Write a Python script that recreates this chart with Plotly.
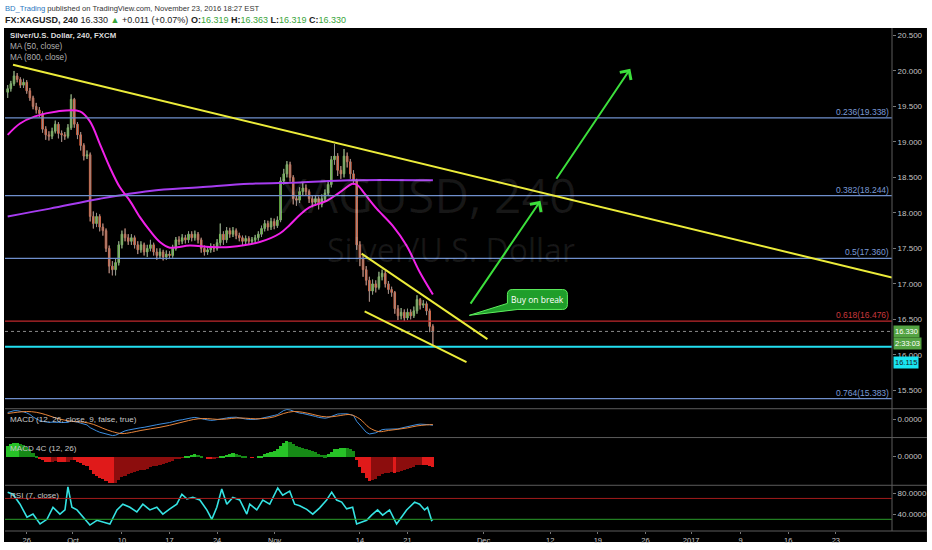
import plotly.graph_objects as go

# ---------------- data ----------------
# 8-hour bars; x is trading-day index (0 = Mon 26 Sep 2016, weekends removed)
bar_start_day = -2.0
bar_step = 1 / 3

opens = [19.70,19.75,19.82,19.93,19.88,19.80,19.84,19.72,19.62,19.50,
 19.45,19.40,19.18,19.10,19.08,19.15,19.25,19.12,19.10,19.08,
 19.20,19.60,19.25,19.10,18.95,18.80,18.82,17.95,17.85,17.95,
 17.80,17.75,17.50,17.25,17.20,17.30,17.55,17.70,17.65,17.60,
 17.65,17.55,17.48,17.55,17.45,17.50,17.55,17.45,17.40,17.45,
 17.38,17.42,17.40,17.50,17.62,17.60,17.65,17.62,17.70,17.65,
 17.70,17.62,17.50,17.45,17.48,17.52,17.50,17.58,17.70,17.62,
 17.75,17.70,17.75,17.68,17.65,17.60,17.64,17.60,17.62,17.65,
 17.70,17.78,17.85,17.80,17.88,17.82,17.90,18.45,18.55,18.68,
 18.50,18.20,18.18,18.30,18.35,18.30,18.20,18.15,18.20,18.12,
 18.20,18.28,18.40,18.75,18.80,18.60,18.55,18.80,18.72,18.55,
 18.45,17.55,17.35,17.20,17.05,16.90,17.00,16.95,17.10,17.15,
 17.00,16.92,16.88,16.65,16.55,16.60,16.52,16.60,16.55,16.62,
 16.78,16.70,16.72,16.62,16.40]
highs = [19.80,19.86,20.00,19.97,19.91,19.89,19.87,19.76,19.65,19.55,
 19.49,19.43,19.22,19.15,19.20,19.30,19.28,19.16,19.14,19.25,
 19.67,19.62,19.28,19.14,18.98,18.88,18.85,18.02,18.00,17.98,
 17.85,17.78,17.54,17.32,17.36,17.60,17.75,17.78,17.70,17.70,
 17.68,17.60,17.60,17.58,17.55,17.62,17.58,17.50,17.50,17.48,
 17.47,17.46,17.55,17.66,17.67,17.70,17.69,17.74,17.74,17.75,
 17.73,17.65,17.54,17.53,17.57,17.56,17.63,17.85,17.74,17.80,
 17.79,17.80,17.78,17.72,17.68,17.68,17.67,17.66,17.69,17.74,
 17.82,17.90,17.89,17.93,17.92,17.95,18.50,18.62,18.73,18.72,
 18.53,18.25,18.36,18.42,18.40,18.33,18.24,18.25,18.23,18.26,
 18.33,18.46,18.80,18.97,18.84,18.66,18.90,18.85,18.76,18.60,
 18.48,17.60,17.40,17.25,17.10,17.06,17.05,17.17,17.20,17.18,
 17.04,16.96,16.90,16.70,16.66,16.64,16.65,16.64,16.68,16.84,
 16.80,16.77,16.75,16.65,16.43]
lows = [19.62,19.71,19.79,19.84,19.76,19.76,19.68,19.58,19.46,19.40,
 19.35,19.13,19.03,19.02,19.04,19.12,19.05,19.00,19.03,19.05,
 19.17,19.20,19.04,18.88,18.74,18.76,17.88,17.78,17.80,17.74,
 17.68,17.45,17.15,17.12,17.12,17.26,17.50,17.60,17.55,17.55,
 17.50,17.42,17.44,17.40,17.38,17.46,17.40,17.34,17.36,17.33,
 17.34,17.35,17.37,17.47,17.55,17.56,17.57,17.58,17.60,17.61,
 17.57,17.44,17.40,17.41,17.44,17.45,17.47,17.54,17.55,17.58,
 17.65,17.66,17.63,17.60,17.55,17.56,17.55,17.56,17.58,17.61,
 17.66,17.74,17.75,17.76,17.77,17.79,17.87,18.40,18.50,18.44,
 18.12,18.10,18.14,18.25,18.24,18.14,18.08,18.10,18.05,18.08,
 18.16,18.24,18.36,18.68,18.52,18.48,18.50,18.64,18.48,18.40,
 17.48,17.25,17.10,16.98,16.75,16.85,16.88,16.92,17.05,16.95,
 16.86,16.82,16.58,16.49,16.50,16.48,16.49,16.50,16.52,16.58,
 16.64,16.66,16.56,16.32,16.12]
closes = [19.75,19.82,19.93,19.88,19.80,19.84,19.72,19.62,19.50,19.45,
 19.40,19.18,19.10,19.08,19.15,19.25,19.12,19.10,19.08,19.20,
 19.60,19.25,19.10,18.95,18.80,18.82,17.95,17.85,17.95,17.80,
 17.75,17.50,17.25,17.20,17.30,17.55,17.70,17.65,17.60,17.65,
 17.55,17.48,17.55,17.45,17.50,17.55,17.45,17.40,17.45,17.38,
 17.42,17.40,17.50,17.62,17.60,17.65,17.62,17.70,17.65,17.70,
 17.62,17.50,17.45,17.48,17.52,17.50,17.58,17.70,17.62,17.75,
 17.70,17.75,17.68,17.65,17.60,17.64,17.60,17.62,17.65,17.70,
 17.78,17.85,17.80,17.88,17.82,17.90,18.45,18.55,18.68,18.50,
 18.20,18.18,18.30,18.35,18.30,18.20,18.15,18.20,18.12,18.20,
 18.28,18.40,18.75,18.80,18.60,18.55,18.80,18.72,18.55,18.45,
 17.55,17.35,17.20,17.05,16.90,17.00,16.95,17.10,17.15,17.00,
 16.92,16.88,16.65,16.55,16.60,16.52,16.60,16.55,16.62,16.78,
 16.70,16.72,16.62,16.40,16.33]

ma50_day = [-2.0,-0.7,0.87,3.18,5.59,6.64,7.69,8.74,9.79,10.84,11.89,12.94,13.99,15.04,
            17.13,19.23,21.33,24.48,26.58,27.63,28.68,29.73,31.51,32.88,34.24,34.76,
            35.5,36.76,38.44,39.9,41.27,42.67]
ma50_val = [19.10,19.26,19.36,19.43,19.43,19.29,18.97,18.64,18.36,18.17,17.94,17.75,17.59,17.51,
            17.54,17.52,17.52,17.59,17.71,17.83,17.97,18.08,18.17,18.29,18.41,18.39,
            18.27,18.06,17.82,17.54,17.17,16.85]
ma800_day = [-2.0, 2.44, 7.69, 12.94, 18.19, 23.43, 28.68, 33.93, 42.67]
ma800_val = [17.95, 18.06, 18.20, 18.31, 18.36, 18.41, 18.43, 18.46, 18.46]

macd_vals = [0.35,0.40,0.44,0.44,0.42,0.38,0.33,0.25,0.12,0.02,
 -0.05,-0.10,-0.14,-0.15,-0.14,-0.13,-0.15,-0.16,-0.17,-0.15,
 -0.08,-0.10,-0.14,-0.19,-0.25,-0.28,-0.42,-0.52,-0.58,-0.65,
 -0.70,-0.75,-0.80,-0.82,-0.80,-0.72,-0.64,-0.58,-0.54,-0.50,
 -0.47,-0.45,-0.42,-0.40,-0.36,-0.32,-0.29,-0.27,-0.24,-0.22,
 -0.19,-0.16,-0.12,-0.07,-0.04,-0.02,0.02,0.05,0.08,0.10,
 0.08,0.04,0.00,-0.03,-0.05,-0.04,-0.02,0.02,0.03,0.07,
 0.10,0.12,0.11,0.08,0.04,0.02,0.00,-0.01,0.00,0.02,
 0.05,0.10,0.13,0.17,0.20,0.24,0.35,0.45,0.50,0.48,
 0.42,0.36,0.32,0.30,0.27,0.22,0.18,0.15,0.10,0.07,
 0.06,0.09,0.16,0.24,0.27,0.28,0.29,0.28,0.24,0.20,
 -0.10,-0.30,-0.50,-0.65,-0.74,-0.72,-0.68,-0.60,-0.52,-0.50,
 -0.49,-0.48,-0.50,-0.48,-0.44,-0.40,-0.36,-0.33,-0.30,-0.26,
 -0.24,-0.24,-0.25,-0.27,-0.30]
signal_day = list(range(-2, 43)) + [42.67]
signal_val = [0.30,0.36,0.40,0.36,0.24,0.08,-0.04,-0.11,-0.14,-0.25,-0.45,-0.62,-0.72,-0.66,
              -0.56,-0.48,-0.40,-0.30,-0.18,-0.06,0.03,0.04,0.00,0.02,0.07,0.06,0.03,0.05,
              0.13,0.30,0.40,0.36,0.26,0.15,0.13,0.20,0.24,0.02,-0.42,-0.62,-0.56,-0.50,
              -0.43,-0.33,-0.28,-0.26]

rsi_day = [-2.0,-1.44,-0.7,0.03,0.66,1.4,2.13,2.76,3.49,4.02,4.33,4.75,5.28,5.91,6.64,7.38,
           8.01,8.74,9.48,10.1,10.84,11.57,12.2,12.94,13.67,14.3,15.04,15.77,16.3,16.82,
           17.45,18.19,18.92,19.45,19.97,20.49,21.02,21.65,22.38,23.12,23.43,24.17,24.8,
           25.53,26.37,26.89,27.63,28.15,28.68,29.42,30.05,30.78,31.51,32.04,32.56,33.09,
           33.61,34.24,34.66,35.18,35.71,36.23,36.86,37.39,38.12,38.86,39.38,39.91,40.75,
           41.27,41.8,42.11,42.53,42.67]
rsi_val = [82,78,59,34,40,21,30,53,40,48,92,53,48,34,19,28,25,21,48,59,53,44,59,48,53,40,
           50,59,78,69,72,67,48,30,53,88,59,72,67,40,59,48,67,59,90,76,84,59,56,49,40,52,
           67,82,67,63,50,53,21,25,28,38,48,38,48,21,34,48,63,59,48,53,28,30]

fib_ratios = ["0.236", "0.382", "0.5", "0.618", "0.764"]
fib_levels = [19.338, 18.244, 17.360, 16.476, 15.383]
support_level = 16.115
last_price = 16.330

price_ticks = [15.5, 16.0, 16.5, 17.0, 17.5, 18.0, 18.5, 19.0, 19.5, 20.0, 20.5]
date_tick_days = [0, 4.86, 10, 15, 20, 26.05, 35, 40, 48, 55, 60, 65, 69.8, 75, 80, 85]
date_tick_text = ["26", "Oct", "10", "17", "24", "Nov", "14", "21", "Dec", "12", "19", "26",
                  "2017", "9", "16", "23"]

# drawings (trading-day, price)
trend_long = [(-1.44, 20.087), (90.9, 17.09)]
channel_top = [(35.18, 17.426), (48.4, 16.221)]
channel_bottom = [(35.5, 16.613), (46.2, 15.899)]
arrow_1 = [(46.52, 16.70), (53.97, 18.17)]
arrow_2 = [(55.54, 18.46), (63.41, 20.03)]
callout_box = (50.5, 56.8, 16.64, 16.92)   # x0, x1, y0, y1
callout_tip = (46.5, 16.557)

X_RANGE = [-2.28, 90.9]
PRICE_RANGE = [15.241, 20.605]

# ---------------- layout helpers ----------------
L_PX, R_PX, T_PX, B_PX = 5, 893, 28, 534
def px_x(px):
    return (px - L_PX) / (R_PX - L_PX)
def px_y(py):
    return (B_PX - py) / (B_PX - T_PX)

bar_x = [bar_start_day + i * bar_step for i in range(len(closes))]

fig = go.Figure()

wx, wy = [], []
for x, h, l in zip(bar_x, highs, lows):
    wx += [x, x, None]
    wy += [l, h, None]
fig.add_trace(go.Scatter(x=wx, y=wy, mode="lines", line=dict(color="#8e8e8e", width=1),
                         hoverinfo="skip", yaxis="y"))
fig.add_trace(go.Candlestick(
    x=bar_x, open=opens, high=highs, low=lows, close=closes, yaxis="y",
    increasing=dict(fillcolor="#74c84e", line=dict(color="#74c84e", width=1)),
    decreasing=dict(fillcolor="#e0633f", line=dict(color="#e0633f", width=1)),
    whiskerwidth=0))

fig.add_trace(go.Scatter(x=ma800_day, y=ma800_val, mode="lines", line=dict(color="#a63cf0", width=2, shape="spline"), yaxis="y"))
fig.add_trace(go.Scatter(x=ma50_day, y=ma50_val, mode="lines", line=dict(color="#f020e8", width=2, shape="spline"), yaxis="y"))

fig.add_trace(go.Scatter(x=bar_x, y=macd_vals, mode="lines", line=dict(color="#3d8ee0", width=1), yaxis="y2"))
fig.add_trace(go.Scatter(x=signal_day, y=signal_val, mode="lines", line=dict(color="#e8853a", width=1, shape="spline"), yaxis="y2"))

cols = []
for i, v in enumerate(macd_vals):
    prev = macd_vals[i - 1] if i else v
    if v >= 0:
        cols.append("#27c227" if v >= prev else "#168a16")
    else:
        cols.append("#e01a1a" if v <= prev else "#8c0d0d")
fig.add_trace(go.Bar(x=bar_x, y=macd_vals, marker=dict(color=cols, line=dict(width=0)),
                     width=bar_step, yaxis="y3"))

fig.add_trace(go.Scatter(x=rsi_day, y=rsi_val, mode="lines", line=dict(color="#35e3e3", width=1.6), yaxis="y4"))

shapes = []
shapes.append(dict(type="rect", xref="paper", yref="paper", x0=px_x(4), x1=px_x(928),
                   y0=px_y(545), y1=1, fillcolor="#000000", line=dict(width=0), layer="below"))
for ratio, lvl in zip(fib_ratios, fib_levels):
    c = "#c0282c" if ratio == "0.618" else "#6f8fcc"
    shapes.append(dict(type="line", xref="x", yref="y", x0=X_RANGE[0], x1=X_RANGE[1], y0=lvl, y1=lvl,
                       line=dict(color=c, width=1.2)))
shapes.append(dict(type="line", xref="x", yref="y", x0=X_RANGE[0], x1=X_RANGE[1], y0=last_price, y1=last_price,
                   line=dict(color="#8a8a8a", width=1, dash="dot")))
shapes.append(dict(type="line", xref="x", yref="y", x0=X_RANGE[0], x1=X_RANGE[1], y0=support_level, y1=support_level,
                   line=dict(color="#22dff0", width=2)))
shapes.append(dict(type="line", xref="x", yref="y4", x0=X_RANGE[0], x1=X_RANGE[1], y0=70, y1=70,
                   line=dict(color="#a31c1c", width=1)))
shapes.append(dict(type="line", xref="x", yref="y4", x0=X_RANGE[0], x1=X_RANGE[1], y0=30, y1=30,
                   line=dict(color="#2a9d2a", width=1)))
for seg in (trend_long, channel_top, channel_bottom):
    shapes.append(dict(type="line", xref="x", yref="y", x0=seg[0][0], y0=seg[0][1], x1=seg[1][0], y1=seg[1][1],
                       line=dict(color="#ecec3a", width=2)))
bx0, bx1, by0, by1 = callout_box
rx, ry = 0.5, 0.07
tx, ty = callout_tip
path = (f"M{bx0+rx},{by1} L{bx1-rx},{by1} Q{bx1},{by1} {bx1},{by1-ry} L{bx1},{by0+ry} "
        f"Q{bx1},{by0} {bx1-rx},{by0} L{bx0+1.1},{by0} L{tx},{ty} L{bx0},{by0+0.085} "
        f"L{bx0},{by1-ry} Q{bx0},{by1} {bx0+rx},{by1} Z")
shapes.append(dict(type="path", xref="x", yref="y", path=path, fillcolor="#1f9e2a",
                   line=dict(color="#5ef05e", width=1)))
for py in (411, 440, 488, 534):
    shapes.append(dict(type="line", xref="paper", yref="paper", x0=0, x1=px_x(928), y0=px_y(py), y1=px_y(py),
                       line=dict(color="#5c5c5c", width=1)))
shapes.append(dict(type="line", xref="paper", yref="paper", x0=1, x1=1, y0=0, y1=1,
                   line=dict(color="#5c5c5c", width=1)))

ann = []
SANS = "Liberation Sans"
ann.append(dict(xref="paper", yref="paper", x=px_x(3), y=px_y(8), xanchor="left", yanchor="middle", showarrow=False,
                text="<span style='color:#2a78c2'>BD_Trading</span> published on TradingView.com, November 23, 2016 18:27 EST",
                font=dict(family=SANS, size=7.6, color="#333333")))
g = "#3aa53a"
ann.append(dict(xref="paper", yref="paper", x=px_x(3), y=px_y(20), xanchor="left", yanchor="middle", showarrow=False,
                text=(f"<b>FX:XAGUSD, 240</b> 16.330 <span style='color:{g}'>▲</span> +0.011 (+0.07%) "
                      f"<b>O:</b><span style='color:{g}'>16.319</span> <b>H:</b><span style='color:{g}'>16.363</span> "
                      f"<b>L:</b><span style='color:{g}'>16.319</span> <b>C:</b><span style='color:{g}'>16.330</span>"),
                font=dict(family=SANS, size=9, color="#222222")))
ann.append(dict(xref="paper", yref="paper", x=px_x(8), y=px_y(36), xanchor="left", yanchor="middle", showarrow=False,
                text="<b>Silver/U.S. Dollar, 240, FXCM</b>", font=dict(family=SANS, size=7.8, color="#dddddd")))
ann.append(dict(xref="paper", yref="paper", x=px_x(8), y=px_y(47), xanchor="left", yanchor="middle", showarrow=False,
                text="MA (50, close)", font=dict(family=SANS, size=8.2, color="#b0b0b0")))
ann.append(dict(xref="paper", yref="paper", x=px_x(8), y=px_y(58), xanchor="left", yanchor="middle", showarrow=False,
                text="MA (800, close)", font=dict(family=SANS, size=8.2, color="#b0b0b0")))
for txt, py in (("MACD (12, 26, close, 9, false, true)", 422), ("MACD 4C (12, 26)", 451), ("RSI (7, close)", 498)):
    ann.append(dict(xref="paper", yref="paper", x=px_x(8), y=px_y(py), xanchor="left", yanchor="middle", showarrow=False,
                    text=txt, font=dict(family=SANS, size=8.1, color="#c8c8c8")))
ann.append(dict(xref="paper", yref="paper", x=px_x(428), y=px_y(195), xanchor="center", yanchor="middle", showarrow=False,
                text="XAGUSD, 240", font=dict(family="Open Sans", size=48, color="rgba(255,255,255,0.09)")))
ann.append(dict(xref="paper", yref="paper", x=px_x(452), y=px_y(251), xanchor="center", yanchor="middle", showarrow=False,
                text="Silver/U.S. Dollar", font=dict(family="Open Sans", size=32, color="rgba(255,255,255,0.09)")))
for ratio, lvl in zip(fib_ratios, fib_levels):
    c = "#c8383c" if ratio == "0.618" else "#7b9ad6"
    ann.append(dict(xref="paper", yref="y", x=px_x(891), y=lvl, xanchor="right", yanchor="bottom", showarrow=False,
                    text=f"{ratio}({lvl:.3f})", font=dict(family=SANS, size=8.5, color=c), borderpad=0))
for txt, py, bg, fc in (("16.330", 333, "#54a343", "#ffffff"), ("2:33:03", 345, "#54a343", "#ffffff"),
                        ("16.115", 364, "#19e4f2", "#1a1a1a")):
    ann.append(dict(xref="paper", yref="paper", x=px_x(894), y=px_y(py), xanchor="left", yanchor="middle",
                    showarrow=False, text=txt, bgcolor=bg, borderpad=1,
                    font=dict(family=SANS, size=7.5, color=fc)))
for seg in (arrow_1, arrow_2):
    ann.append(dict(xref="x", yref="y", axref="x", ayref="y", x=seg[1][0], y=seg[1][1], ax=seg[0][0], ay=seg[0][1],
                    text="", showarrow=True, arrowhead=4, arrowsize=1.3, arrowwidth=2, arrowcolor="#3ce03c"))
ann.append(dict(xref="x", yref="y", x=(bx0 + bx1) / 2, y=(by0 + by1) / 2, showarrow=False, text="Buy on break",
                font=dict(family="Open Sans", size=8.5, color="#ffffff")))

axis_font = dict(family=SANS, size=8, color="#c4c4c4")
common_y = dict(side="right", showgrid=False, zeroline=False, ticks="outside", ticklen=3, tickcolor="#777777",
                tickfont=axis_font, showline=False, anchor="x", fixedrange=True)

fig.update_layout(
    width=932, height=550,
    margin=dict(l=L_PX, r=932 - R_PX, t=T_PX, b=550 - B_PX),
    paper_bgcolor="#ffffff", plot_bgcolor="#000000",
    showlegend=False, bargap=0,
    shapes=shapes, annotations=ann,
    xaxis=dict(domain=[0, 1], range=X_RANGE, anchor="y4", showgrid=False, zeroline=False,
               tickmode="array", tickvals=date_tick_days, ticktext=date_tick_text,
               ticks="outside", ticklen=2, tickcolor="#777777", tickfont=dict(family=SANS, size=7.5, color="#c4c4c4"),
               rangeslider=dict(visible=False), showline=False, fixedrange=True),
    yaxis=dict(domain=[px_y(411), 1], range=PRICE_RANGE, tickmode="array", tickvals=price_ticks,
               ticktext=[f"{v:.3f}" for v in price_ticks], **common_y),
    yaxis2=dict(domain=[px_y(440), px_y(411)], range=[-0.92, 0.54], tickmode="array", tickvals=[0],
                ticktext=["0.0000"], **common_y),
    yaxis3=dict(domain=[px_y(488), px_y(440)], range=[-0.9, 0.6], tickmode="array", tickvals=[0],
                ticktext=["0.0000"], **common_y),
    yaxis4=dict(domain=[0, px_y(488)], range=[7.6, 95.2], tickmode="array", tickvals=[40, 80],
                ticktext=["40.0000", "80.0000"], **common_y),
)

fig.write_html("out.html", config={"displayModeBar": False},
               post_script="document.body.style.margin='0';document.body.style.overflow='hidden';")
